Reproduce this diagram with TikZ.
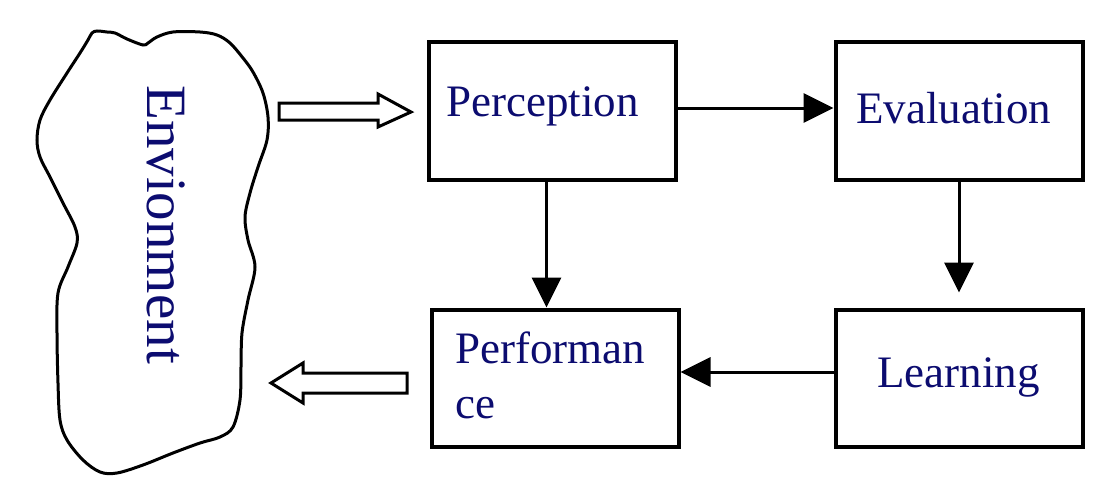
\documentclass[tikz,border=0pt]{standalone}
\usepackage{fontspec}
\setmainfont{Liberation Serif}
\usetikzlibrary{arrows.meta}
\definecolor{txtnavy}{RGB}{12,12,112}
\tikzset{
  box/.style={draw=black, line width=4pt, minimum width=247pt, minimum height=137pt, inner sep=0pt, fill=white},
  lbl/.style={text=txtnavy, font=\fontsize{45}{55}\selectfont, inner sep=0pt, anchor=base west},
  arr/.style={draw=black, line width=3pt, -{Triangle[length=30pt,width=29pt]}},
  hollow/.style={draw=black, line width=3pt, fill=white, line join=miter},
  blob/.style={draw=black, line width=3pt},
}
\begin{document}
\begin{tikzpicture}[x=1pt,y=-1pt]
\useasboundingbox (0,0) rectangle (1108,487);
% environment blob
\draw[blob] plot[smooth cycle, tension=0.55] coordinates {
(92,33) (97,31) (107,32) (115,33) (127,39) (143,45) (148,43) (157,37) (173,32) (200,32)
(217,35) (230,43) (243,58) (253,72) (263,93) (268,117) (267,140) (258,167) (250,193)
(245,217) (248,240) (255,267) (248,300) (242,333) (241,367) (240,400) (233,427) (220,437)
(200,443) (173,453) (143,465) (117,473) (100,472) (83,460) (67,440) (60,420) (58,383)
(57,333) (58,293) (68,267) (77,243) (75,227) (63,203) (50,177) (40,157) (37,140) (40,120)
(50,100) (67,73) (80,53) (88,40)};
\node[text=txtnavy, font=\fontsize{57}{60}\selectfont, inner sep=0pt, rotate=-90, anchor=base west] (env) at (147,85) {Envionment};
% boxes
\node[box] (perc) at (552.5,111) {};
\node[box] (eval) at (959,111) {};
\node[box] (perf) at (555,378) {};
\node[box] (learn) at (959,378) {};
% labels
\node[lbl] (percl) at (446,116) {Perception};
\node[lbl] (evall) at (856,123) {Evaluation};
\node[lbl] (learnl) at (877,387) {Learning};
\node[lbl] (perfl1) at (455,363) {Performan};
\node[lbl] (perfl2) at (455,418) {ce};
% connectors
\draw[arr] ([yshift=3pt]perc.east) -- ([yshift=3pt]eval.west);
\draw[arr] ([xshift=-6pt]perc.south) -- ([xshift=-6pt]perc.south |- perf.north);
\draw[arr] (eval.south) -- ([yshift=15pt]learn.north);
\draw[arr] ([yshift=6pt]learn.west) -- ([yshift=6pt]perf.east);
% hollow arrows
\draw[hollow] (279,103) -- (378,103) -- (378,94) -- (411,112) -- (378,127) -- (378,120) -- (279,120) -- cycle;
\draw[hollow] (407,373) -- (303,373) -- (303,363) -- (271,383) -- (303,403) -- (303,393) -- (407,393) -- cycle;
\end{tikzpicture}
\end{document}
